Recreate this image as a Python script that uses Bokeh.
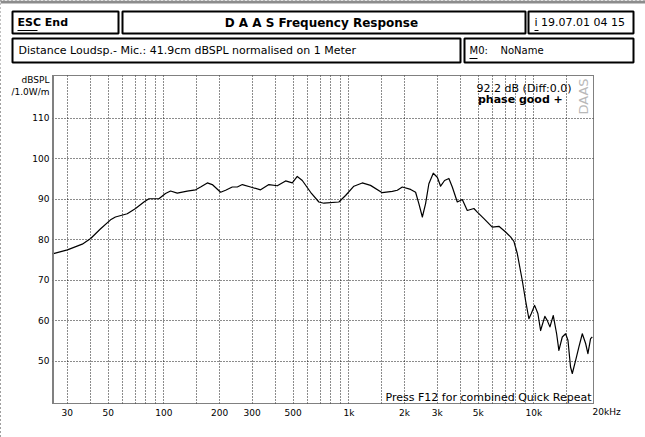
from bokeh.plotting import figure
from bokeh.layouts import column
from bokeh.models import Range1d, FixedTicker, Label, Span
from bokeh.core.properties import value
from bokeh.embed import file_html
from bokeh.resources import INLINE

# ---- data ----
freq_hz = [25.0, 30.1, 36.2, 40.2, 45.5, 51.5, 54.7, 63.4, 70.3, 78.0, 83.0, 94.0,
           102, 108.7, 118.1, 133.7, 148.4, 157.9, 171.7, 182.6, 202.6, 215.6, 234.3,
           249.3, 265.5, 294.2, 333.2, 369.5, 410.2, 454.9, 494.5, 526, 560, 621,
           688.5, 732.5, 883, 959.5, 1064, 1181, 1309, 1515, 1717, 1827, 1944, 2156,
           2294, 2389, 2495, 2598, 2706, 2858, 3006, 3131, 3290, 3472, 3622, 3855,
           4102, 4365, 4740, 4945, 5370, 5957, 6471, 7031, 7480, 7798, 8131, 8650,
           9016, 9397, 9683, 10090, 10510, 10870, 11460, 11800, 12210, 12730, 13270,
           13650, 14240, 14840, 15280, 15780, 16130, 16800, 17500, 18270, 19040,
           19590, 20250, 20690]
spl_db = [76.5, 77.5, 78.9, 80.3, 82.7, 84.9, 85.6, 86.4, 87.7, 89.3, 90.1, 90.1,
          91.4, 92.0, 91.5, 92.0, 92.3, 93.0, 94.0, 93.6, 91.7, 92.2, 93.0,
          93.0, 93.6, 93.0, 92.3, 93.6, 93.3, 94.5, 94.0, 95.6, 94.6, 91.7,
          89.3, 89.0, 89.3, 90.9, 93.2, 94.0, 93.4, 91.6, 91.9, 92.2, 93.0, 92.4,
          91.7, 88.9, 85.6, 88.9, 93.8, 96.4, 95.4, 93.2, 94.6, 95.1, 93.0, 89.3,
          89.9, 87.2, 87.7, 86.8, 85.2, 83.1, 83.3, 81.9, 80.7, 79.6, 76.6, 70.0,
          65.0, 60.5, 61.8, 63.8, 61.8, 57.6, 61.1, 60.1, 58.5, 61.3, 56.8,
          52.7, 56.0, 56.8, 55.2, 48.6, 47.0, 50.2, 53.5, 56.8, 54.4,
          51.9, 55.6, 56.0]

grid_freqs = [30, 40, 50, 60, 70, 80, 90, 100, 150, 200, 300, 400, 500, 600, 700,
              800, 900, 1000, 1500, 2000, 3000, 4000, 5000, 6000, 7000, 8000, 9000,
              10000, 15000]
x_tick_vals = [30, 50, 100, 200, 300, 500, 1000, 2000, 3000, 5000, 10000]
x_tick_labels = ["30", "50", "100", "200", "300", "500", "1k", "2k", "3k", "5k", "10k"]
x_last_label = "20kHz"
y_tick_vals = [50, 60, 70, 80, 90, 100, 110]
y_unit_pos = 117.9
y_unit_label = "dBSPL\n/1.0W/m"

header_left = ["ESC End", "D A A S  Frequency Response", "i 19.07.01 04 15"]
info_text = "Distance Loudsp.- Mic.: 41.9cm dBSPL normalised on 1 Meter"
model_label = ["M0:", "NoName"]
level_text = "92.2 dB (Diff:0.0)"
phase_text = "phase  good  +"
hint_text = "Press F12 for combined Quick Repeat"

FONT = "DejaVu Sans"
W, H = 645, 437
HH = 70  # header strip height

# ---------------- header strip ----------------
h = figure(width=W, height=HH, x_range=Range1d(0, W), y_range=Range1d(HH, 0),
           output_backend="svg", toolbar_location=None, min_border=0)
h.axis.visible = False
h.grid.visible = False
h.outline_line_color = None
h.background_fill_color = "white"
h.border_fill_color = "white"

# top band of the window frame
h.quad(left=[0], right=[W], top=[0], bottom=[3], fill_color="#8c8c8c",
       line_color=None)
# header boxes
h.quad(left=[12, 122, 528, 12, 464], right=[118, 525, 633, 460, 633],
       top=[11, 11, 11, 38, 38], bottom=[33, 33, 33, 62, 62],
       fill_color=None, line_color="black", line_width=2)
# underlined hot-keys
h.segment(x0=[17, 534, 469], y0=[30, 30, 58], x1=[37, 538, 477], y1=[30, 30, 58],
          line_color="black", line_width=1)

h.text(x=[17], y=[22], text=[header_left[0]], text_font=value(FONT),
       text_font_size="11px", text_font_style="bold", text_baseline="middle")
h.text(x=[323], y=[22], text=[header_left[1]], text_font=value(FONT),
       text_font_size="12px", text_font_style="bold", text_baseline="middle",
       text_align="center")
h.text(x=[534], y=[22], text=[header_left[2]], text_font=value(FONT),
       text_font_size="11px", text_baseline="middle")
h.text(x=[18], y=[50], text=[info_text], text_font=value(FONT),
       text_font_size="11px", text_baseline="middle")
h.text(x=[469, 500], y=[50, 50], text=model_label, text_font=value(FONT),
       text_font_size="10px", text_baseline="middle")

# ---------------- main plot ----------------
p = figure(width=W, height=H - HH, x_axis_type="log",
           x_range=Range1d(25, 21000), y_range=Range1d(39.6, 120.5),
           output_backend="svg", toolbar_location=None,
           min_border_left=52, min_border_right=52, min_border_top=75 - HH,
           min_border_bottom=34)
p.background_fill_color = "white"
p.border_fill_color = "white"
p.outline_line_color = "black"
p.outline_line_dash = "1 1"
p.outline_line_width = 1

for fig in (h, p):
    if "frame_align" in fig.properties():
        fig.frame_align = False

p.xaxis.ticker = FixedTicker(ticks=x_tick_vals, minor_ticks=[])
p.xaxis.major_label_overrides = {v: l for v, l in zip(x_tick_vals, x_tick_labels)}
p.yaxis.ticker = FixedTicker(ticks=y_tick_vals + [y_unit_pos], minor_ticks=[])
p.yaxis.major_label_overrides = {y_unit_pos: y_unit_label}
for ax in (p.xaxis[0], p.yaxis[0]):
    ax.axis_line_color = None
    ax.major_tick_line_color = None
    ax.minor_tick_line_color = None
    ax.major_tick_out = 0
    ax.major_tick_in = 0
    ax.minor_tick_out = 0
    ax.major_label_text_font = FONT
    ax.major_label_text_font_size = "9px"
    ax.major_label_text_color = "black"
p.xaxis.major_label_standoff = 4
p.yaxis.major_label_standoff = 3

p.xgrid.ticker = FixedTicker(ticks=grid_freqs, minor_ticks=[])
p.ygrid.ticker = FixedTicker(ticks=y_tick_vals, minor_ticks=[])
for g in (p.xgrid[0], p.ygrid[0]):
    g.grid_line_color = "black"
    g.grid_line_dash = "1 2"
    g.grid_line_width = 1
    g.grid_line_alpha = 0.9

p.add_layout(Span(location=25, dimension="height", line_color="#808080",
                  line_width=3))

p.line(freq_hz, spl_db, line_color="black", line_width=1.2, line_join="round")


def text(x, y, s, size="10px", bold=False, align="left", color="black", angle=0,
         place=None):
    lb = Label(x=x, y=y - HH, x_units="canvas", y_units="canvas", text=s,
               text_font=FONT, text_font_size=size,
               text_font_style="bold" if bold else "normal",
               text_align=align, text_baseline="middle", text_color=color,
               angle=angle, angle_units="deg")
    if place:
        p.add_layout(lb, place)
    else:
        p.add_layout(lb)


text(571, 88, level_text, size="11px", align="right")
text(570, 99, phase_text, size="11px", bold=True, align="right")
text(583, 96, "DAAS", size="13px", align="center", color="#b8b8b8", angle=90)
text(591, 397, hint_text, size="11px", align="right")
text(592, 411, x_last_label, size="9px", align="left", place="below")

layout = column(h, p, spacing=0,
                styles={"outline": "2px dotted #808080", "outline-offset": "-2px"})

open("out.html", "w").write(file_html(layout, INLINE))
